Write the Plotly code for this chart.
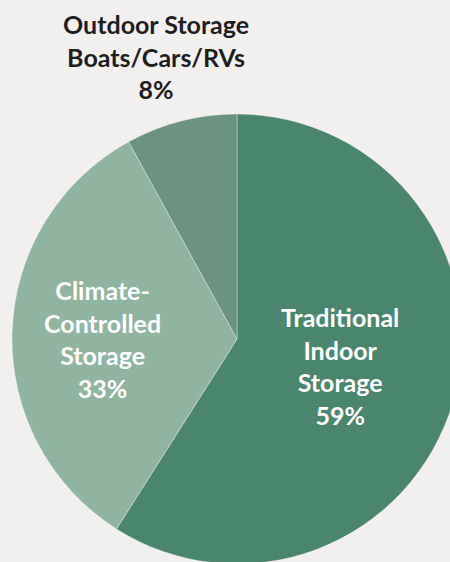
import plotly.graph_objects as go

# ---- data ----
categories = ["Traditional Indoor Storage", "Climate-Controlled Storage", "Outdoor Storage Boats/Cars/RVs"]
label_lines = ["Traditional<br>Indoor<br>Storage", "Climate-<br>Controlled<br>Storage", "Outdoor Storage<br>Boats/Cars/RVs"]
shares = [59, 33, 8]
slice_colors = ["#4a866e", "#8fb4a0", "#6b9480"]

fig = go.Figure(
    go.Pie(
        labels=categories,
        values=shares,
        sort=False,
        direction="clockwise",
        rotation=0,
        marker=dict(colors=slice_colors, line=dict(color="rgba(255,255,255,0.35)", width=1)),
        textinfo="none",
        hoverinfo="label+percent",
        showlegend=False,
        domain=dict(x=[0, 1], y=[0, 1]),
    )
)

# label annotations (paper coordinates relative to the pie domain)
label_pos = [(0.729, 0.44, "white"), (0.20, 0.50, "white"), (0.32, 1.127, "#1e1e1e")]
for txt, val, (x, y, c) in zip(label_lines, shares, label_pos):
    fig.add_annotation(
        x=x, y=y, xref="paper", yref="paper",
        text=f"{txt}<br>{val}%",
        showarrow=False,
        font=dict(family="Lato", size=25, color=c, weight="bold"),
        align="center",
        xanchor="center", yanchor="middle",
    )

fig.update_layout(
    width=462,
    height=564,
    margin=dict(l=12, r=0, t=114, b=0),
    paper_bgcolor="#f2f0ef",
    plot_bgcolor="#f2f0ef",
)

fig.write_html(
    "out.html",
    config={"displayModeBar": False},
    post_script="document.body.style.margin='0';document.body.style.overflow='hidden';document.documentElement.style.overflow='hidden';",
)
